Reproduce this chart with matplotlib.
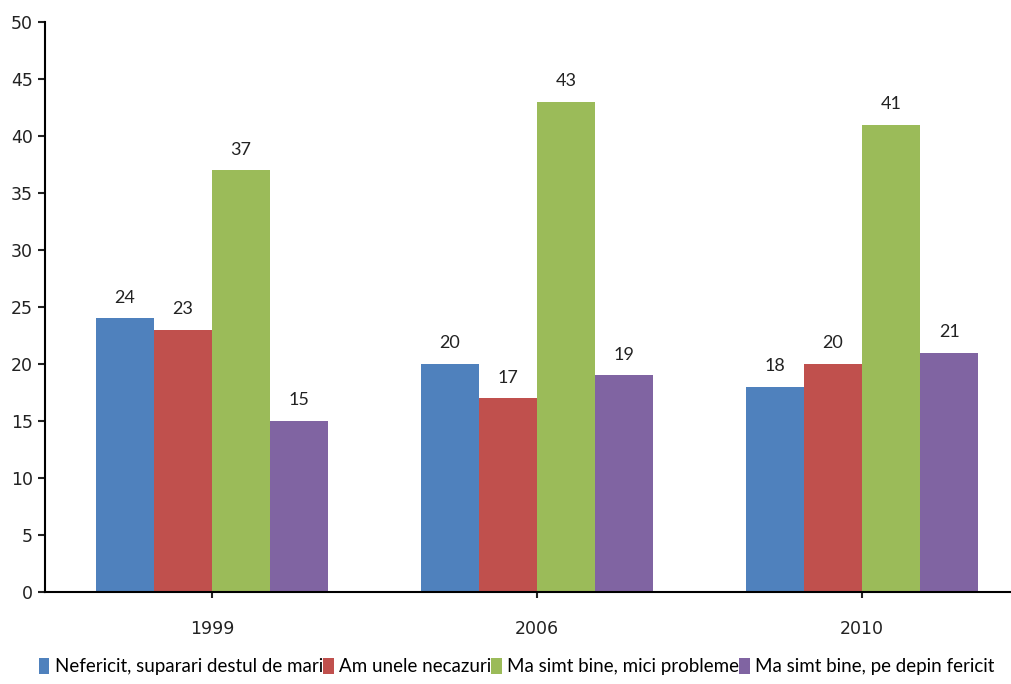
import numpy as np
from matplotlib import pyplot as plt

years = ['1999', '2006', '2010']
labels = ['Nefericit, suparari destul de mari', 'Am unele necazuri',
          'Ma simt bine, mici probleme', 'Ma simt bine, pe depin fericit']
values = [
    [24, 20, 18],
    [23, 17, 20],
    [37, 43, 41],
    [15, 19, 21],
]
colors = ['#4F81BD', '#C0504D', '#9BBB59', '#8064A2']

fig = plt.figure(figsize=(10.11, 6.84), dpi=100)
ax = fig.add_axes([0.0445, 0.1345, 0.969, 0.8335])

x = np.arange(len(years))
w = 0.179
for i in range(len(values)):
    pos = x + (i - 1.5) * w
    bars = ax.bar(pos, values[i], w, color=colors[i], label=labels[i])
    for b, v in zip(bars, values[i]):
        ax.text(b.get_x() + b.get_width() / 2, v + 1.1, str(v),
                ha='center', va='bottom', fontsize=13, family='Lato', color='#222222')

ax.set_xlim(-0.514, 2.5)
ax.set_ylim(0, 50)
ax.set_yticks(range(0, 51, 5))
ax.set_xticks(x)
ax.set_xticklabels(years)
ax.tick_params(axis='both', labelsize=12.5, colors='#222222', direction='out', length=5, width=1.5)
ax.tick_params(axis='x', pad=16, length=4)
for lbl in ax.get_xticklabels() + ax.get_yticklabels():
    lbl.set_family('DejaVu Sans')
ax.spines['top'].set_visible(False)
ax.spines['right'].set_visible(False)
ax.spines['left'].set_linewidth(1.5)
ax.spines['bottom'].set_linewidth(1.5)

fig.legend(loc='lower left', bbox_to_anchor=(0.022, -0.012), ncol=4, frameon=False,
           prop={'family': 'Lato', 'size': 13.5}, handlelength=0.55, handleheight=0.9,
           handletextpad=0.3, columnspacing=0.0)

plt.savefig('out.png', dpi=100)
